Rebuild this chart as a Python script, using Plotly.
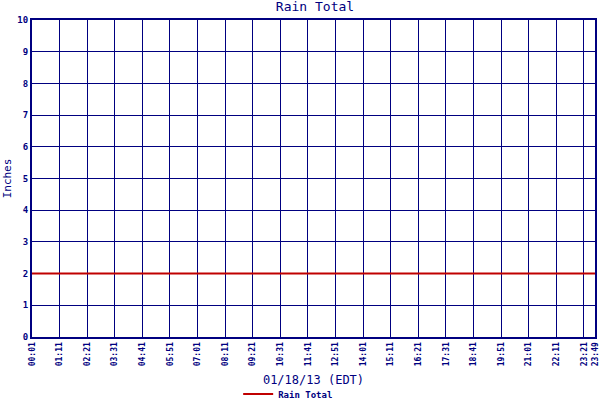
import plotly.graph_objects as go

tick_labels = ["00:01", "01:11", "02:21", "03:31", "04:41", "05:51", "07:01", "08:11",
               "09:21", "10:31", "11:41", "12:51", "14:01", "15:11", "16:21", "17:31",
               "18:41", "19:51", "21:01", "22:11", "23:21", "23:49"]
times = ["00:01", "06:00", "12:00", "18:00", "23:49"]
rain_total = [2.0, 2.0, 2.0, 2.0, 2.0]

def to_min(t):
    h, m = t.split(":")
    return int(h) * 60 + int(m)

NAVY = "#000080"
FONT = "DejaVu Sans Mono"

fig = go.Figure()
fig.add_trace(go.Scatter(
    x=[to_min(t) for t in times], y=rain_total, mode="lines",
    name="Rain Total", line=dict(color="#c00000", width=2),
))

fig.update_layout(
    width=600, height=400,
    margin=dict(l=32, r=5, t=20, b=63, autoexpand=False),
    paper_bgcolor="white", plot_bgcolor="white",
    title=dict(text="Rain Total", x=0.525, xanchor="center", y=0.995, yanchor="top",
               font=dict(family=FONT, size=13, color=NAVY)),
    showlegend=True,
    legend=dict(orientation="h", x=0.455, xanchor="center", y=-0.18, yanchor="middle",
                font=dict(family=FONT, size=9, color=NAVY, weight="bold"),
                bgcolor="rgba(0,0,0,0)"),
    xaxis=dict(
        automargin=False,
        range=[to_min("00:01"), to_min("23:49")],
        tickvals=[to_min(t) for t in tick_labels], ticktext=tick_labels,
        tickangle=-90, ticklabeloverflow="allow",
        tickfont=dict(family=FONT, size=8, color=NAVY, weight="bold"),
        showgrid=True, gridcolor=NAVY, gridwidth=1,
        zeroline=False, showline=True, linecolor=NAVY, linewidth=2, mirror=True,
        ticks="", title=dict(text="01/18/13 (EDT)", standoff=10,
                             font=dict(family=FONT, size=12, color=NAVY)),
    ),
    yaxis=dict(
        automargin=False,
        range=[0, 10], dtick=1, tick0=0,
        tickfont=dict(family=FONT, size=9, color=NAVY, weight="bold"),
        showgrid=True, gridcolor=NAVY, gridwidth=1,
        zeroline=False, showline=True, linecolor=NAVY, linewidth=2, mirror=True,
        ticks="", title=dict(text="Inches", standoff=4,
                             font=dict(family=FONT, size=11, color=NAVY)),
    ),
)

fig.write_html("out.html", config={"displayModeBar": False},
               post_script="document.body.style.margin='0';")
